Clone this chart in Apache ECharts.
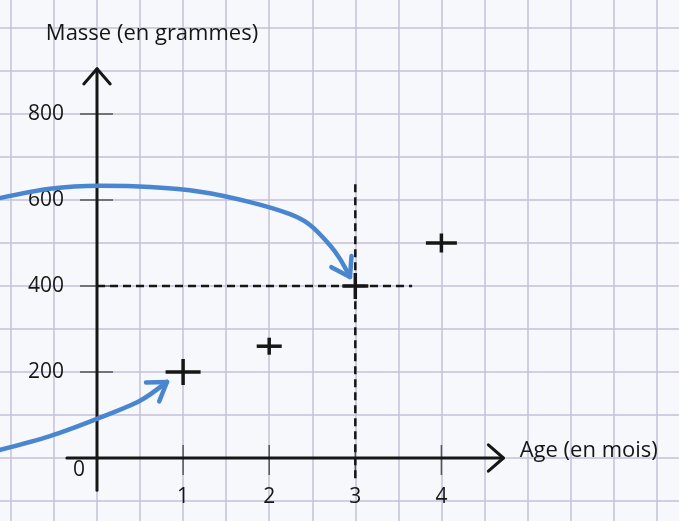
<!DOCTYPE html>
<html><head><meta charset="utf-8">
<script src="https://cdn.jsdelivr.net/npm/echarts@6/dist/echarts.min.js"></script>
<style>html,body{margin:0;padding:0;background:#f7f8fb}#c{width:679px;height:521px}</style>
</head><body><div id="c"></div>
<script>
// ---- data ----
const ageMonths = [1, 2, 3, 4];
const massGrams = [200, 260, 400, 500];
const xTickLabels = [1, 2, 3, 4];
const yTickLabels = [200, 400, 600, 800];
const xAxisTitle = 'Age (en mois)';
const yAxisTitle = 'Masse (en grammes)';
// reading guides for the point (3, 400)
const guideVertical = [3, -47, 3, 640];      // x0, y0, x1, y1
const guideHorizontal = [0, 400, 3.66, 400];
// hand-drawn axes (data units)
const xAxisDrawn = [-0.35, 0, 4.72, 0];
const yAxisDrawn = [0, -75, 0, 905];
// blue annotation arrows (data units)
const arrowAX = [-1.185, -0.546, 0.035, 0.616, 1.196, 1.777, 2.242, 2.474, 2.706, 2.822, 2.938];
const arrowAY = [602, 626, 633, 630, 619, 595, 567, 542, 495, 463, 421];
const arrowBX = [-1.185, -0.546, 0, 0.499, 0.813];
const arrowBY = [16, 51, 91, 133, 177];

// ---- styles ----
const INK = '#161616';
const PAPER_LINE = '#c4c0d8';
const BLUE = '#4a86d0';
const FONT = '"Open Sans", sans-serif';
const crossSizes = [[35, 26], [25, 17], [26, 26], [31, 19]];

function zip(a, b) { return a.map((v, i) => [v, b[i]]); }
function chevronArms(tip, from, len, spread) {
  const ang = Math.atan2(from[1] - tip[1], from[0] - tip[0]);
  return [ang - spread, ang + spread].map(a => [tip[0] + len * Math.cos(a), tip[1] + len * Math.sin(a)]);
}

const chart = echarts.init(document.getElementById('c'));
const AX = { xAxisIndex: 1, yAxisIndex: 1 };
const PAPER = { xAxisIndex: 0, yAxisIndex: 0 };

const option = {
  backgroundColor: '#f7f8fb',
  animation: false,
  grid: [
    // squared paper, extending past the page (same scale as the plotting frame)
    { left: -32.15, right: -20.7, top: -15, bottom: -23, outerBoundsMode: 'none' },
    // plotting frame whose left/bottom edges are the axes (x = 0, y = 0)
    { left: 97, right: -20.7, top: -15, bottom: 63, outerBoundsMode: 'none' }
  ],
  xAxis: [
    {
      gridIndex: 0, type: 'value', min: -1.5, max: 7, interval: 0.5,
      axisLine: { show: false }, axisTick: { show: false }, axisLabel: { show: false },
      splitLine: { show: true, lineStyle: { color: PAPER_LINE, width: 1.5 } }
    },
    {
      gridIndex: 1, type: 'value', min: 0, max: 7, interval: 0.5,
      axisLine: { show: false }, axisTick: { show: false }, splitLine: { show: false },
      axisLabel: {
        margin: 29, fontFamily: FONT, fontSize: 21, color: INK,
        formatter: v => xTickLabels.includes(v) ? String(v) : ''
      },
      name: xAxisTitle, nameLocation: 'end', nameGap: -180, nameMoveOverlap: false,
      nameTextStyle: { fontFamily: FONT, fontSize: 22, color: INK, verticalAlign: 'bottom', lineHeight: 14 }
    }
  ],
  yAxis: [
    {
      gridIndex: 0, type: 'value', min: -200, max: 1100, interval: 100,
      axisLine: { show: false }, axisTick: { show: false }, axisLabel: { show: false },
      splitLine: { show: true, lineStyle: { color: PAPER_LINE, width: 1.5 } }
    },
    {
      gridIndex: 1, type: 'value', min: 0, max: 1100, interval: 100,
      axisLine: { show: false }, axisTick: { show: false }, splitLine: { show: false },
      axisLabel: {
        margin: 12, fontFamily: FONT, fontSize: 21, color: INK, showMinLabel: true,
        formatter: v => v === 0 ? '{z|0}' : (yTickLabels.includes(v) ? '{n|' + v + '}' : ''),
        rich: {
          n: { fontFamily: FONT, fontSize: 21, color: INK, padding: [0, 21, 0, 0] },
          z: { fontFamily: FONT, fontSize: 21, color: INK, padding: [25, 0, 0, 0] }
        }
      },
      name: yAxisTitle, nameLocation: 'end', nameGap: -60, nameMoveOverlap: false,
      nameTextStyle: { fontFamily: FONT, fontSize: 22, color: INK, padding: [0, 0, 0, 110] }
    }
  ],
  series: [
    { // hand-drawn axes with open arrowheads
      type: 'custom', silent: true, z: 5, ...PAPER,
      data: [xAxisDrawn, yAxisDrawn],
      encode: { x: [0, 2], y: [1, 3] },
      renderItem: (params, api) => {
        const p = api.coord([api.value(0), api.value(1)]);
        const q = api.coord([api.value(2), api.value(3)]);
        const arms = chevronArms(q, p, 20, 0.72);
        const style = { stroke: INK, lineWidth: 3, fill: null, lineCap: 'round', lineJoin: 'round' };
        return { type: 'group', children: [
          { type: 'line', shape: { x1: p[0], y1: p[1], x2: q[0], y2: q[1] }, style },
          { type: 'polyline', shape: { points: [arms[0], q, arms[1]] }, style }
        ]};
      }
    },
    { // tick marks
      type: 'custom', silent: true, z: 4, ...PAPER,
      data: xTickLabels.map(v => [v, 0, 0]).concat(yTickLabels.map(v => [0, v, 1])),
      encode: { x: 0, y: 1 },
      renderItem: (params, api) => {
        const c = api.coord([api.value(0), api.value(1)]);
        const vertical = api.value(2) === 0;
        const shape = vertical
          ? { x1: c[0], y1: c[1] - 13, x2: c[0], y2: c[1] + 17 }
          : { x1: c[0] - 17, y1: c[1], x2: c[0] + 16, y2: c[1] };
        return { type: 'line', shape, style: { stroke: '#555', lineWidth: 1.5 } };
      }
    },
    { // dashed reading guides
      type: 'custom', silent: true, z: 6, ...PAPER,
      data: [guideVertical, guideHorizontal],
      encode: { x: [0, 2], y: [1, 3] },
      renderItem: (params, api) => {
        const p = api.coord([api.value(0), api.value(1)]);
        const q = api.coord([api.value(2), api.value(3)]);
        return { type: 'line', shape: { x1: p[0], y1: p[1], x2: q[0], y2: q[1] },
          style: { stroke: INK, lineWidth: 2.5, lineDash: [8, 5] } };
      }
    },
    { // measured points drawn as crosses
      type: 'custom', name: 'Masse', z: 8, ...AX,
      data: zip(ageMonths, massGrams),
      encode: { x: 0, y: 1 },
      renderItem: (params, api) => {
        const c = api.coord([api.value(0), api.value(1)]);
        const s = crossSizes[params.dataIndex];
        const style = { stroke: INK, lineWidth: 3.5 };
        return { type: 'group', children: [
          { type: 'line', shape: { x1: c[0] - s[0] / 2, y1: c[1], x2: c[0] + s[0] / 2, y2: c[1] }, style },
          { type: 'line', shape: { x1: c[0], y1: c[1] - s[1] / 2, x2: c[0], y2: c[1] + s[1] / 2 }, style }
        ]};
      }
    },
    {
      type: 'line', silent: true, z: 9, ...PAPER, smooth: 0.3, showSymbol: false,
      data: zip(arrowAX, arrowAY),
      lineStyle: { color: BLUE, width: 4.5, cap: 'round' }
    },
    {
      type: 'line', silent: true, z: 9, ...PAPER, smooth: 0.3, showSymbol: false,
      data: zip(arrowBX, arrowBY),
      lineStyle: { color: BLUE, width: 4.5, cap: 'round' }
    },
    { // blue arrowheads
      type: 'custom', silent: true, z: 9, ...PAPER,
      data: [
        [arrowAX[arrowAX.length - 1], arrowAY[arrowAY.length - 1], arrowAX[arrowAX.length - 2], arrowAY[arrowAY.length - 2]],
        [arrowBX[arrowBX.length - 1], arrowBY[arrowBY.length - 1], arrowBX[arrowBX.length - 2], arrowBY[arrowBY.length - 2]]
      ],
      encode: { x: [0, 2], y: [1, 3] },
      renderItem: (params, api) => {
        const tip = api.coord([api.value(0), api.value(1)]);
        const from = api.coord([api.value(2), api.value(3)]);
        const arms = chevronArms(tip, from, 21, 0.58);
        return { type: 'polyline', shape: { points: [arms[0], tip, arms[1]] },
          style: { stroke: BLUE, lineWidth: 4.5, fill: null, lineCap: 'round', lineJoin: 'round' } };
      }
    }
  ]
};
chart.setOption(option);
</script>
</body></html>
